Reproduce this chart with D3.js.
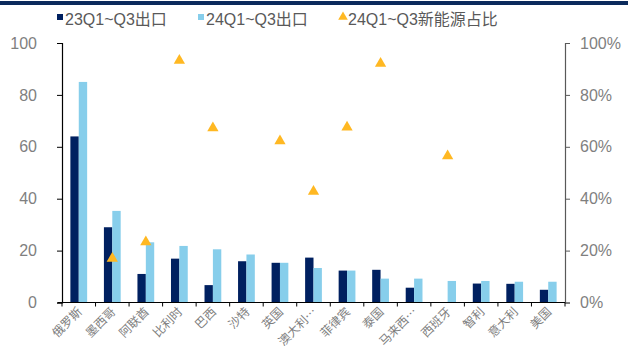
<!DOCTYPE html>
<html>
<head>
<meta charset="utf-8">
<script src="https://cdn.jsdelivr.net/npm/d3@7"></script>
<style>
  html, body { margin: 0; padding: 0; background: #fff; }
  svg { display: block; font-family: "Liberation Sans", "Noto Sans CJK SC", sans-serif; }
</style>
</head>
<body>
<svg id="chart" width="628" height="346"></svg>
<script>
// Export volume by destination (left axis) and NEV share (right axis)
const categories = ["俄罗斯", "墨西哥", "阿联酋", "比利时", "巴西", "沙特", "英国", "澳大利…",
                    "菲律宾", "泰国", "马来西…", "西班牙", "智利", "意大利", "美国"];
const exports23 = [64, 29, 11, 16.9, 6.7, 15.9, 15.3, 17.3, 12.3, 12.6, 5.7, 0, 7.3, 7.2, 4.9];
const exports24 = [85, 35.3, 23.2, 21.8, 20.5, 18.5, 15.3, 13.3, 12.3, 9.2, 9.2, 8.3, 8.3, 8.0, 8.0];
// NEV share; null where no marker is drawn
const nevShare = [null, 0.17, 0.233, 0.933, 0.672, null, 0.622, 0.428, 0.675, 0.921, null, 0.565, null, null, null];
const leftTicks = [0, 20, 40, 60, 80, 100];
const rightTicks = [0, 0.2, 0.4, 0.6, 0.8, 1.0];
const legendLabels = ["23Q1~Q3出口", "24Q1~Q3出口", "24Q1~Q3新能源占比"];

const colors = { dark: "#002060", light: "#87CEEB", tri: "#FFB822" };

const svg = d3.select("#chart");
const plot = { left: 62, right: 565, top: 43, bottom: 302.5 };

// top rule
svg.append("rect").attr("x", 0).attr("y", 1).attr("width", 628).attr("height", 4).attr("fill", "#0B2A5C");

const x = d3.scaleBand().domain(categories).range([plot.left, plot.right]).paddingInner(0).paddingOuter(0);
const yL = d3.scaleLinear().domain([0, 100]).range([plot.bottom, plot.top]);
const yR = d3.scaleLinear().domain([0, 1]).range([plot.bottom, plot.top]);

const barW = x.bandwidth() * 0.25;
const groupOff = (x.bandwidth() - 2 * barW) / 2;

// bars
const g = svg.append("g");
g.selectAll(".b23").data(categories).enter().append("rect")
  .attr("x", d => x(d) + groupOff)
  .attr("y", (d, i) => yL(exports23[i]))
  .attr("width", barW)
  .attr("height", (d, i) => plot.bottom - yL(exports23[i]))
  .attr("fill", colors.dark);
g.selectAll(".b24").data(categories).enter().append("rect")
  .attr("x", d => x(d) + groupOff + barW)
  .attr("y", (d, i) => yL(exports24[i]))
  .attr("width", barW)
  .attr("height", (d, i) => plot.bottom - yL(exports24[i]))
  .attr("fill", colors.light);

// left axis
const axL = d3.axisLeft(yL).tickValues(leftTicks).tickSize(5).tickPadding(20);
const gL = svg.append("g").attr("transform", `translate(${plot.left},0)`).call(axL);
gL.select(".domain").attr("stroke", "#000").attr("stroke-width", 1.2);
gL.selectAll(".tick line").attr("stroke", "#000");
gL.selectAll("text").attr("fill", "#7F7F7F").attr("font-size", 16)
  .attr("font-family", "'Liberation Sans', Arial, sans-serif");

// right axis
const axR = d3.axisRight(yR).tickValues(rightTicks).tickFormat(d3.format(".0%")).tickSize(5).tickPadding(10);
const gR = svg.append("g").attr("transform", `translate(${plot.right},0)`).call(axR);
gR.select(".domain").attr("stroke", "#595959").attr("stroke-width", 1.2);
gR.selectAll(".tick line").attr("stroke", "#595959");
gR.selectAll("text").attr("fill", "#7F7F7F").attr("font-size", 16)
  .attr("font-family", "'Liberation Sans', Arial, sans-serif");

// bottom axis with ticks at band boundaries
const gB = svg.append("g");
gB.append("line").attr("x1", plot.left - 4).attr("x2", plot.right)
  .attr("y1", plot.bottom).attr("y2", plot.bottom).attr("stroke", "#000").attr("stroke-width", 1.2);
gB.selectAll(".bt").data(categories).enter().append("line")
  .attr("x1", d => x(d) + x.bandwidth())
  .attr("x2", d => x(d) + x.bandwidth())
  .attr("y1", plot.bottom).attr("y2", plot.bottom + 4)
  .attr("stroke", "#000");
gB.append("line").attr("x1", plot.left).attr("x2", plot.left)
  .attr("y1", plot.bottom).attr("y2", plot.bottom + 4).attr("stroke", "#000");
gB.selectAll(".lbl").data(categories).enter().append("text")
  .attr("transform", d => `translate(${x(d) + x.bandwidth() / 2 + 4},${plot.bottom + 10}) rotate(-45)`)
  .attr("text-anchor", "end")
  .attr("font-size", 12)
  .attr("font-family", "'Noto Sans CJK SC', sans-serif")
  .attr("fill", "#7F7F7F")
  .text(d => d);

// NEV share triangles
const tri = d3.symbol().type(d3.symbolTriangle).size(55);
svg.append("g").selectAll("path").data(categories.map((c, i) => ({ c, v: nevShare[i] })).filter(d => d.v != null))
  .enter().append("path")
  .attr("d", tri)
  .attr("transform", d => `translate(${x(d.c) + x.bandwidth() / 2},${yR(d.v)})`)
  .attr("fill", colors.tri);

// legend
const lg = svg.append("g").attr("font-size", 16).attr("fill", "#595959");
const legendPos = [57, 198, 340];
lg.append("rect").attr("x", legendPos[0]).attr("y", 14).attr("width", 6).attr("height", 6).attr("fill", colors.dark);
lg.append("rect").attr("x", legendPos[1]).attr("y", 14).attr("width", 6).attr("height", 6).attr("fill", colors.light);
lg.append("path").attr("d", d3.symbol().type(d3.symbolTriangle).size(40))
  .attr("transform", `translate(${legendPos[2] + 3},17)`).attr("fill", colors.tri);
legendLabels.forEach((t, i) => {
  lg.append("text").attr("x", legendPos[i] + 8).attr("y", 25).text(t);
});
</script>
</body>
</html>
